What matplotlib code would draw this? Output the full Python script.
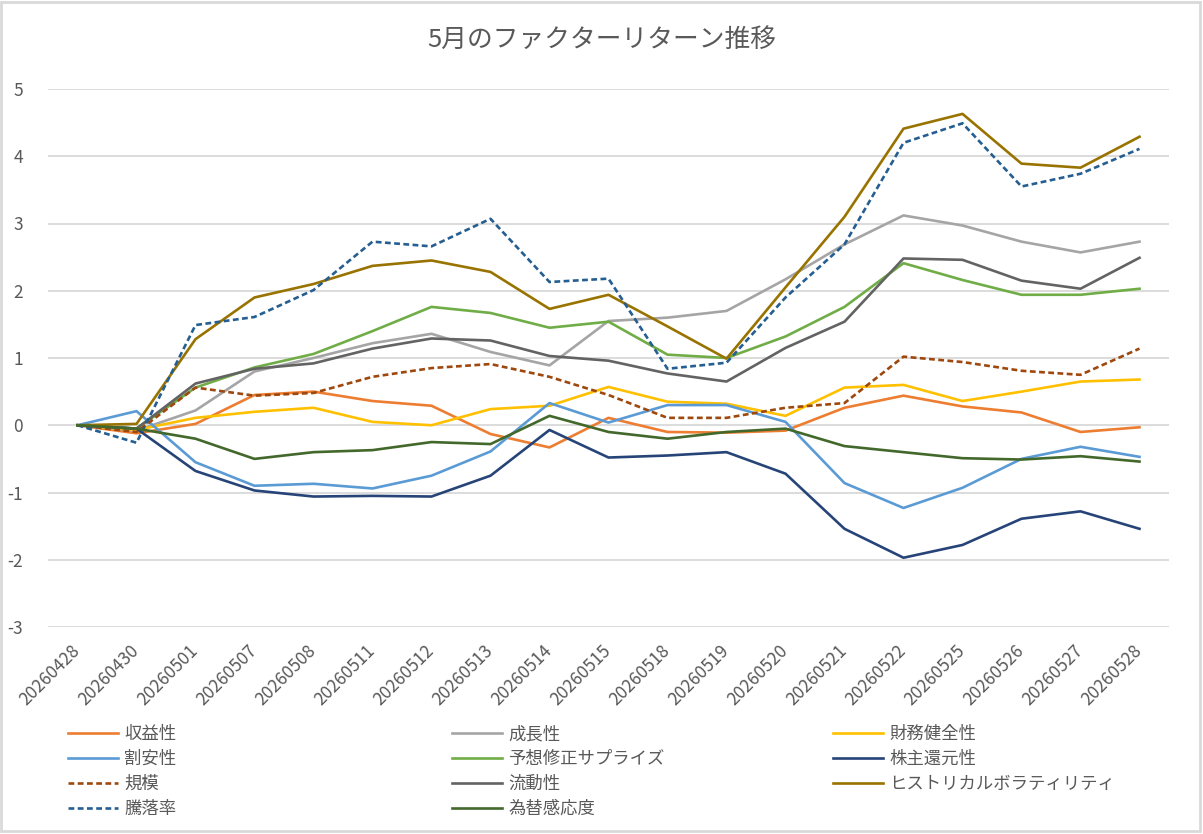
import matplotlib
matplotlib.use("Agg")
import matplotlib.pyplot as plt
from matplotlib.patches import Rectangle

plt.rcParams['font.family'] = ['Noto Sans CJK JP', 'DejaVu Sans']
plt.rcParams['axes.unicode_minus'] = False

dates = ["20260428", "20260430", "20260501", "20260507", "20260508", "20260511",
         "20260512", "20260513", "20260514", "20260515", "20260518", "20260519",
         "20260520", "20260521", "20260522", "20260525", "20260526", "20260527",
         "20260528"]

shueki   = [0, -0.12, 0.02, 0.45, 0.50, 0.36, 0.29, -0.13, -0.33, 0.11, -0.10, -0.11, -0.08, 0.26, 0.44, 0.28, 0.19, -0.10, -0.03]
seicho   = [0, -0.08, 0.22, 0.80, 1.00, 1.22, 1.36, 1.09, 0.89, 1.55, 1.60, 1.70, 2.17, 2.69, 3.12, 2.97, 2.73, 2.57, 2.73]
zaimu    = [0, -0.07, 0.11, 0.20, 0.26, 0.05, 0.00, 0.24, 0.29, 0.57, 0.35, 0.32, 0.14, 0.56, 0.60, 0.36, 0.50, 0.65, 0.68]
wariyasu = [0, 0.21, -0.55, -0.90, -0.87, -0.94, -0.75, -0.39, 0.33, 0.04, 0.30, 0.30, 0.05, -0.86, -1.23, -0.93, -0.50, -0.32, -0.47]
yoso     = [0, -0.05, 0.56, 0.86, 1.06, 1.40, 1.76, 1.67, 1.45, 1.54, 1.05, 1.00, 1.32, 1.76, 2.41, 2.16, 1.94, 1.94, 2.03]
kabunushi= [0, -0.05, -0.68, -0.97, -1.06, -1.05, -1.06, -0.75, -0.07, -0.48, -0.45, -0.40, -0.72, -1.54, -1.97, -1.78, -1.39, -1.28, -1.54]
kibo     = [0, -0.10, 0.56, 0.44, 0.48, 0.72, 0.85, 0.91, 0.72, 0.45, 0.11, 0.11, 0.26, 0.33, 1.02, 0.94, 0.81, 0.75, 1.14]
ryudo    = [0, -0.05, 0.62, 0.84, 0.92, 1.14, 1.29, 1.26, 1.03, 0.96, 0.77, 0.65, 1.15, 1.54, 2.48, 2.46, 2.15, 2.03, 2.49]
hv       = [0, 0.02, 1.28, 1.90, 2.10, 2.37, 2.45, 2.28, 1.73, 1.94, 1.47, 0.99, 2.05, 3.10, 4.41, 4.63, 3.89, 3.83, 4.29]
toraku   = [0, -0.26, 1.49, 1.61, 2.01, 2.73, 2.66, 3.07, 2.13, 2.18, 0.84, 0.93, 1.90, 2.69, 4.20, 4.49, 3.55, 3.74, 4.11]
kawase   = [0, -0.05, -0.20, -0.50, -0.40, -0.37, -0.25, -0.28, 0.14, -0.10, -0.20, -0.10, -0.05, -0.31, -0.40, -0.49, -0.51, -0.46, -0.54]

series = [
    ("収益性", shueki, "#ED7D31", "-"),
    ("成長性", seicho, "#A5A5A5", "-"),
    ("財務健全性", zaimu, "#FFC000", "-"),
    ("割安性", wariyasu, "#5B9BD5", "-"),
    ("予想修正サプライズ", yoso, "#70AD47", "-"),
    ("株主還元性", kabunushi, "#264478", "-"),
    ("規模", kibo, "#9E480E", "--"),
    ("流動性", ryudo, "#636363", "-"),
    ("ヒストリカルボラティリティ", hv, "#997300", "-"),
    ("騰落率", toraku, "#255E91", "--"),
    ("為替感応度", kawase, "#43682B", "-"),
]

W, H = 1203, 834
fig = plt.figure(figsize=(W / 100, H / 100), dpi=100)
ax = fig.add_axes([48 / W, 1 - 627 / H, (1169 - 48) / W, (627 - 89) / H])

x = list(range(len(dates)))
handles = []
for name, vals, col, ls in series:
    if ls == "--":
        (ln,) = ax.plot(x, vals, color=col, lw=1.9, linestyle=(0, (2.2, 1.3)), label=name)
    else:
        (ln,) = ax.plot(x, vals, color=col, lw=1.9, label=name)
    handles.append(ln)

ax.set_xlim(-0.5, len(dates) - 0.5)
ax.set_ylim(-3, 5)
ax.set_yticks(range(-3, 6))
ax.set_xticks(x)
ax.set_xticklabels(dates, rotation=45, ha='right', va='center', rotation_mode='anchor')
ax.tick_params(axis='x', length=0, pad=15, labelsize=12.5, labelcolor='#595959')
ax.tick_params(axis='y', length=0, pad=18, labelsize=12.5, labelcolor='#595959')
for s in ax.spines.values():
    s.set_visible(False)
ax.grid(axis='y', color='#D9D9D9', lw=1.3)
ax.set_axisbelow(True)

fig.text(0.5, 1 - 40 / H, "5月のファクターリターン推移", ha='center', va='center',
         fontsize=18.5, color='#595959')

# Legend in three columns, filled row-wise like the original
cols = [[0, 3, 6, 9], [1, 4, 7, 10], [2, 5, 8]]
col_x = [68, 452, 833]
for cx, idxs in zip(col_x, cols):
    fig.legend([handles[i] for i in idxs], [series[i][0] for i in idxs],
               loc='upper left', bbox_to_anchor=(cx / W, 1 - 725 / H),
               bbox_transform=fig.transFigure, frameon=False, fontsize=12.5,
               handlelength=2.9, handletextpad=0.35, labelspacing=0.4,
               borderpad=0, borderaxespad=0, labelcolor='#595959')

fig.patches.append(Rectangle((1 / W, 3 / H), 1199 / W, 829 / H, transform=fig.transFigure,
                             fill=False, edgecolor='#D9D9D9', lw=2))

fig.savefig("out.png", dpi=100, facecolor='white')
